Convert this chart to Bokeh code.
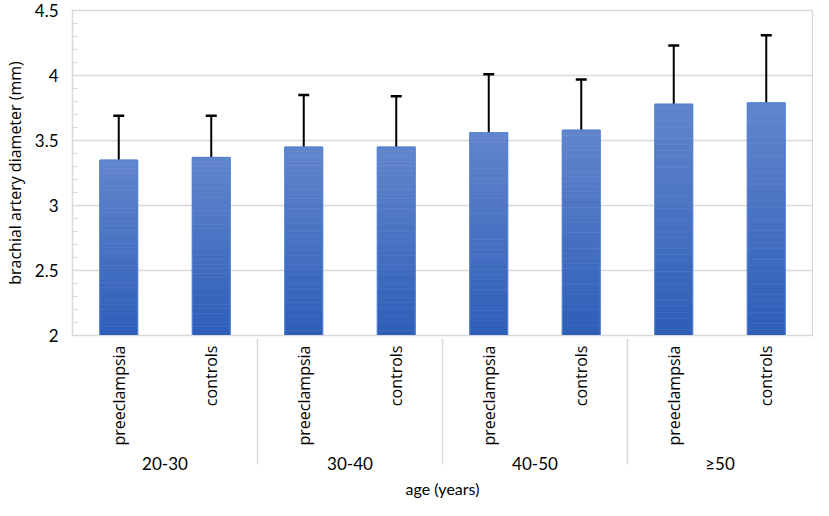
import numpy as np
from bokeh.plotting import figure
from bokeh.models import FactorRange, ColumnDataSource, Whisker, TeeHead, FixedTicker, Range1d
from bokeh.embed import file_html
from bokeh.resources import INLINE

# ---- data ----
age_groups = ["20-30", "30-40", "40-50", "≥50"]
subgroups = ["preeclampsia", "controls"]
means = [3.35, 3.37, 3.45, 3.45, 3.56, 3.58, 3.78, 3.79]
errors = [0.34, 0.32, 0.40, 0.39, 0.45, 0.39, 0.45, 0.52]
y_ticks = [2, 2.5, 3, 3.5, 4, 4.5]

factors = [(g, s) for g in age_groups for s in subgroups]
base = 2.0

p = figure(x_range=FactorRange(*factors, factor_padding=0, group_padding=0, range_padding=0),
           y_range=Range1d(2, 4.5),
           width=813, height=500, output_backend="svg", toolbar_location=None,
           min_border_left=58, min_border_right=1, min_border_top=10, min_border_bottom=0)

# gradient bars: stacked slices from each bar's bottom to its top
n = 40
top_c = np.array([0x62, 0x86, 0xCC])
bot_c = np.array([0x2D, 0x5D, 0xB8])
for k in range(n):
    col = bot_c + (top_c - bot_c) * (k + 0.5) / n
    color = "#%02x%02x%02x" % tuple(int(round(c)) for c in col)
    b = [base + (m - base) * k / n for m in means]
    tp = [base + (m - base) * (k + 1) / n for m in means]
    src = ColumnDataSource(dict(x=factors, bottom=b, top=tp))
    p.vbar(x="x", bottom="bottom", top="top", width=0.41, source=src,
           fill_color=color, line_color=color, line_width=0.6)

src_all = ColumnDataSource(dict(x=factors, top=means, upper=[m + e for m, e in zip(means, errors)]))
p.vbar(x="x", bottom=base, top="top", width=0.41, source=src_all,
       fill_color=None, line_color="#4f7fd6", line_width=1)

w = Whisker(base="x", lower="top", upper="upper", source=src_all, dimension="height",
            line_color="black", line_width=2,
            upper_head=TeeHead(size=11, line_color="black", line_width=2.5),
            lower_head=None)
p.add_layout(w)

# y axis
p.yaxis.ticker = FixedTicker(ticks=y_ticks, minor_ticks=list(np.round(np.arange(2, 4.51, 0.1), 2)))
p.yaxis.axis_label = "brachial artery diameter (mm)"
p.yaxis.axis_label_text_font = "Open Sans"
p.yaxis.axis_label_text_font_size = "16px"
p.yaxis.axis_label_text_font_style = "normal"
p.yaxis.axis_label_text_color = "#000000"
p.yaxis.axis_label_standoff = 6
p.yaxis.major_label_text_font = "Lato"
p.yaxis.major_label_text_font_size = "17px"
p.yaxis.major_label_text_color = "#000000"
p.yaxis.axis_line_color = None
p.yaxis.major_tick_line_color = None
p.yaxis.minor_tick_line_color = "#d9d9d9"
p.yaxis.minor_tick_in = 5
p.yaxis.minor_tick_out = 0
p.yaxis.major_label_standoff = 8

# x axis
p.xaxis.axis_label = "age (years)"
p.xaxis.axis_label_text_font = "Lato"
p.xaxis.axis_label_text_font_size = "16px"
p.xaxis.axis_label_text_font_style = "normal"
p.xaxis.axis_label_text_color = "#000000"
p.xaxis.axis_label_standoff = 2
p.xaxis.major_label_orientation = np.pi / 2
p.xaxis.major_label_text_font = "Open Sans"
p.xaxis.major_label_text_font_size = "16px"
p.xaxis.major_label_text_color = "#000000"
p.xaxis.group_text_font = "Lato"
p.xaxis.group_text_font_size = "17px"
p.xaxis.group_text_font_style = "normal"
p.xaxis.group_text_color = "#000000"
p.xaxis.separator_line_color = "#d9d9d9"
p.xaxis.separator_line_width = 1.5
p.xaxis.axis_line_color = "#d9d9d9"
p.xaxis.major_tick_line_color = None
p.xaxis.major_label_standoff = 4
p.xaxis.group_label_orientation = "horizontal"

p.xgrid.grid_line_color = None
p.ygrid.grid_line_color = "#d9d9d9"
p.ygrid.grid_line_width = 1.5
p.outline_line_color = "#d9d9d9"
p.outline_line_width = 1.5

open("out.html", "w").write(file_html(p, INLINE))
